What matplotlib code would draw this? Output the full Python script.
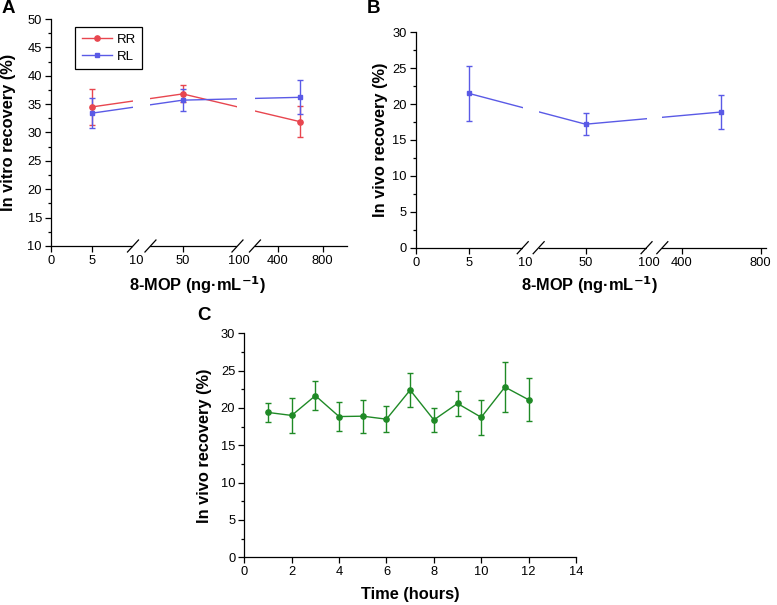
import numpy as np
import matplotlib
matplotlib.use('Agg')
import matplotlib.pyplot as plt
from matplotlib.ticker import MultipleLocator
from matplotlib.patches import Rectangle
from matplotlib.lines import Line2D

plt.rcParams['font.family'] = ['Liberation Sans', 'DejaVu Sans']
plt.rcParams['font.size'] = 9.3

# donnees
# ------------------------------------------
conc = [5, 50, 600]
tick_conc = [0, 5, 10, 50, 100, 400, 800]
tick_lab = ['0', '5', '10', '50', '100', '400', '800']

rr_vitro = [34.5, 36.8, 31.9]
rr_vitro_err = [3.2, 1.5, 2.7]
rl_vitro = [33.4, 35.7, 36.2]
rl_vitro_err = [2.6, 1.9, 3.0]

vivo = [21.5, 17.2, 18.9]
vivo_err = [3.8, 1.5, 2.4]

heures = [1, 2, 3, 4, 5, 6, 7, 8, 9, 10, 11, 12]
vivo_t = [19.4, 19.0, 21.65, 18.85, 18.9, 18.5, 22.4, 18.4, 20.6, 18.75, 22.8, 21.1]
vivo_t_err = [1.25, 2.4, 1.9, 1.95, 2.2, 1.75, 2.25, 1.65, 1.7, 2.35, 3.3, 2.85]

rouge = '#e8464f'
bleu = '#5a5ae6'
vert = '#1f8a26'

labfs = 11.8
xlab_mop = '8-MOP (ng·mL$^{\\mathbf{-1}}$)'

W, H = 777, 605
fig = plt.figure(figsize=(W / 100, H / 100), dpi=100)


def axes_px(l, t, r, b):
    return fig.add_axes([l / W, 1 - b / H, (r - l) / W, (b - t) / H])


def echelle_cassee(ax, anchors, pos, cuts, xmax):
    # echelle par morceaux pour l'axe x coupe
    fwd = lambda x: np.interp(x, anchors, pos)
    inv = lambda p: np.interp(p, pos, anchors)
    ax.set_xscale('function', functions=(fwd, inv))
    ax.set_xlim(0, xmax)
    ax.set_xticks(tick_conc)
    ax.set_xticklabels(tick_lab)
    for i in (2, 4):
        ax.xaxis.get_major_ticks()[i].tick1line.set_visible(False)
    bb = ax.get_position()
    wpx, hpx = bb.width * W, bb.height * H
    dx, dy = 5.5 / wpx, 6.0 / hpx
    for a, b in cuts:
        ax.add_patch(Rectangle((a, -0.02), b - a, 1.02, transform=ax.transAxes,
                               facecolor='white', edgecolor='none', zorder=3, clip_on=False))
        for c in (a, b):
            ax.plot([c - dx, c + dx], [-dy, dy], color='black', lw=0.9,
                    transform=ax.transAxes, clip_on=False, zorder=4)


def style(ax):
    for s in ('top', 'right'):
        ax.spines[s].set_visible(False)
    for s in ('left', 'bottom'):
        ax.spines[s].set_linewidth(0.9)
    ax.tick_params(which='major', direction='out', length=4, width=0.9, labelsize=9.3, pad=2.5)
    ax.tick_params(which='minor', direction='out', length=2.2, width=0.9)


# A
axA = axes_px(51, 19, 347, 246)
style(axA)
axA.errorbar(conc, rr_vitro, yerr=rr_vitro_err, color=rouge, marker='o', ms=3.8,
             lw=1.0, capsize=2, elinewidth=1.0)
axA.errorbar(conc, rl_vitro, yerr=rl_vitro_err, color=bleu, marker='s', ms=3.5,
             lw=1.0, capsize=2, elinewidth=1.0)
echelle_cassee(axA, [0, 5, 10, 50, 100, 400, 800, 1016],
               [0, 0.1375, 0.287, 0.445, 0.635, 0.766, 0.918, 1.0],
               [(0.277, 0.336), (0.630, 0.689)], 1016)
axA.set_ylim(10, 50)
axA.yaxis.set_major_locator(MultipleLocator(5))
axA.yaxis.set_minor_locator(MultipleLocator(2.5))
axA.set_ylabel('In vitro recovery (%)', fontsize=labfs, fontweight='bold')
axA.set_xlabel(xlab_mop, fontsize=labfs, fontweight='bold')
axA.yaxis.set_label_coords(-0.118, 0.5)
axA.xaxis.label.set_va('center')
axA.xaxis.set_label_coords(0.493, -0.172)
poignees = [Line2D([], [], color=rouge, marker='o', ms=3.8, lw=1.0),
            Line2D([], [], color=bleu, marker='s', ms=3.5, lw=1.0)]
leg = axA.legend(poignees, ['RR', 'RL'], loc='upper left', bbox_to_anchor=(0.081, 0.965),
                 borderaxespad=0, fancybox=False, edgecolor='black', framealpha=1,
                 fontsize=9.5, handlelength=2.3, borderpad=0.5, labelspacing=0.35,
                 handletextpad=0.35)
leg.get_frame().set_linewidth(0.9)
leg.set_zorder(6)

# B
axB = axes_px(415.7, 32.3, 766, 247.7)
style(axB)
axB.errorbar(conc, vivo, yerr=vivo_err, color=bleu, marker='s', ms=3.5,
             lw=1.0, capsize=2, elinewidth=1.0)
echelle_cassee(axB, [0, 5, 10, 50, 100, 400, 800, 812],
               [0, 0.151, 0.314, 0.485, 0.665, 0.759, 0.985, 1.0],
               [(0.3055, 0.351), (0.659, 0.704)], 812)
axB.set_ylim(0, 30)
axB.yaxis.set_major_locator(MultipleLocator(5))
axB.yaxis.set_minor_locator(MultipleLocator(2.5))
axB.set_ylabel('In vivo recovery (%)', fontsize=labfs, fontweight='bold')
axB.set_xlabel(xlab_mop, fontsize=labfs, fontweight='bold')
axB.yaxis.set_label_coords(-0.079, 0.5)
axB.xaxis.label.set_va('center')
axB.xaxis.set_label_coords(0.497, -0.173)

# C
axC = axes_px(244.3, 333.3, 576, 557.3)
style(axC)
axC.errorbar(heures, vivo_t, yerr=vivo_t_err, color=vert, marker='o', ms=3.8,
             lw=1.0, capsize=2, elinewidth=1.0)
axC.set_xlim(0, 14)
axC.set_ylim(0, 30)
axC.xaxis.set_major_locator(MultipleLocator(2))
axC.yaxis.set_major_locator(MultipleLocator(5))
axC.yaxis.set_minor_locator(MultipleLocator(2.5))
axC.set_ylabel('In vivo recovery (%)', fontsize=labfs, fontweight='bold')
axC.set_xlabel('Time (hours)', fontsize=labfs, fontweight='bold')
axC.yaxis.set_label_coords(-0.097, 0.5)
axC.xaxis.label.set_va('center')
axC.xaxis.set_label_coords(0.5, -0.168)

# lettres des panneaux
for lettre, x, y in [('A', 8, 8.5), ('B', 374, 8.5), ('C', 203.5, 315.5)]:
    fig.text(x / W, 1 - y / H, lettre, fontsize=13.5, fontweight='bold',
             ha='center', va='center')

fig.savefig('out.png', dpi=100)
